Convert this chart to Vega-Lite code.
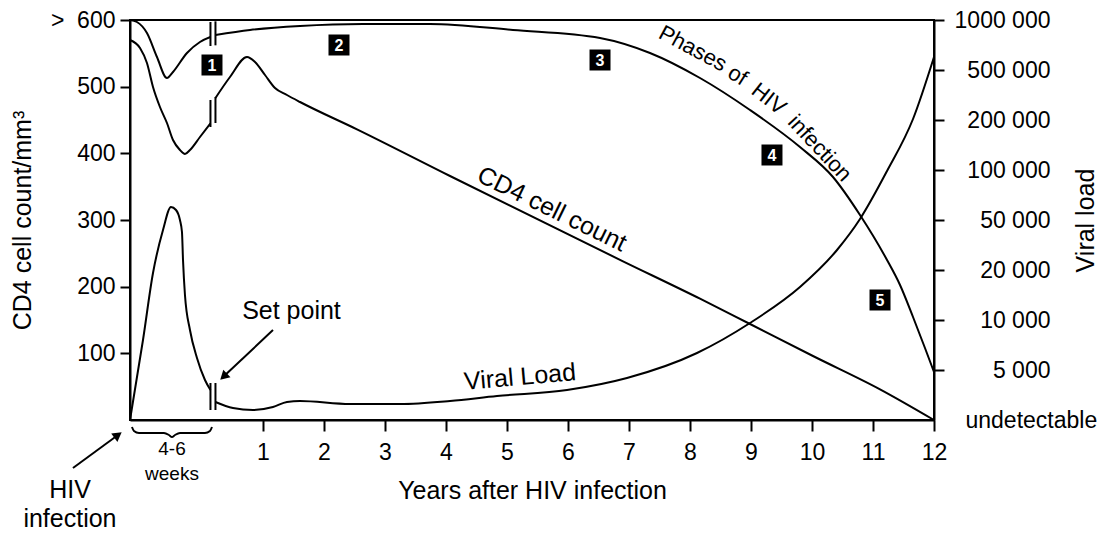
{
  "$schema": "https://vega.github.io/schema/vega-lite/v6.json",
  "width": 804,
  "height": 400,
  "autosize": {"type": "none"},
  "padding": {"left": 130, "top": 20, "right": 167, "bottom": 114},
  "background": "white",
  "config": {
    "font": "Liberation Sans",
    "view": {"stroke": "black", "strokeWidth": 2},
    "axis": {
      "domainColor": "black", "domainWidth": 2, "tickColor": "black", "tickWidth": 2,
      "labelColor": "black", "titleColor": "black", "grid": false,
      "labelFont": "Liberation Sans", "titleFont": "Liberation Sans",
      "labelFontSize": 23, "titleFontSize": 25, "titleFontWeight": "normal",
      "labelOverlap": false
    }
  },
  "datasets": {
    "curves": [
      {"key": "ph_a", "x": -1.18, "y": 600}, {"key": "ph_a", "x": -1.066, "y": 597}, {"key": "ph_a", "x": -0.902, "y": 580.5},
      {"key": "ph_a", "x": -0.738, "y": 544.5}, {"key": "ph_a", "x": -0.574, "y": 513}, {"key": "ph_a", "x": -0.475, "y": 522},
      {"key": "ph_a", "x": -0.246, "y": 550.5}, {"key": "ph_a", "x": -0.033, "y": 567}, {"key": "ph_a", "x": 0.139, "y": 574.5},
      {"key": "ph_b", "x": 0.221, "y": 577.5}, {"key": "ph_b", "x": 0.787, "y": 585}, {"key": "ph_b", "x": 1.607, "y": 591},
      {"key": "ph_b", "x": 2.639, "y": 594}, {"key": "ph_b", "x": 3.738, "y": 594}, {"key": "ph_b", "x": 5.098, "y": 585},
      {"key": "ph_b", "x": 6.525, "y": 573}, {"key": "ph_b", "x": 7.344, "y": 550.5}, {"key": "ph_b", "x": 8.164, "y": 513},
      {"key": "ph_b", "x": 8.984, "y": 465}, {"key": "ph_b", "x": 9.803, "y": 409.5}, {"key": "ph_b", "x": 10.344, "y": 364.5},
      {"key": "ph_b", "x": 10.787, "y": 307.5}, {"key": "ph_b", "x": 11.23, "y": 240}, {"key": "ph_b", "x": 11.443, "y": 202.5},
      {"key": "ph_b", "x": 11.656, "y": 154.5}, {"key": "ph_b", "x": 11.852, "y": 108}, {"key": "ph_b", "x": 12, "y": 72},
      {"key": "cd_a", "x": -1.18, "y": 570}, {"key": "cd_a", "x": -1.016, "y": 558}, {"key": "cd_a", "x": -0.902, "y": 535.5},
      {"key": "cd_a", "x": -0.803, "y": 499.5}, {"key": "cd_a", "x": -0.689, "y": 469.5}, {"key": "cd_a", "x": -0.574, "y": 445.5},
      {"key": "cd_a", "x": -0.475, "y": 420}, {"key": "cd_a", "x": -0.361, "y": 405}, {"key": "cd_a", "x": -0.279, "y": 399},
      {"key": "cd_a", "x": -0.197, "y": 405}, {"key": "cd_a", "x": -0.033, "y": 424.5}, {"key": "cd_a", "x": 0.139, "y": 445},
      {"key": "cd_b", "x": 0.221, "y": 483}, {"key": "cd_b", "x": 0.459, "y": 514.5}, {"key": "cd_b", "x": 0.738, "y": 544.5},
      {"key": "cd_b", "x": 0.869, "y": 537}, {"key": "cd_b", "x": 1.033, "y": 517.5}, {"key": "cd_b", "x": 1.197, "y": 498},
      {"key": "cd_b", "x": 1.393, "y": 487.5}, {"key": "cd_b", "x": 1.607, "y": 477}, {"key": "cd_b", "x": 2.541, "y": 436},
      {"key": "cd_b", "x": 4.066, "y": 366}, {"key": "cd_b", "x": 6.902, "y": 238}, {"key": "cd_b", "x": 8.164, "y": 182},
      {"key": "cd_b", "x": 8.984, "y": 144}, {"key": "cd_b", "x": 10.016, "y": 96}, {"key": "cd_b", "x": 11.115, "y": 46},
      {"key": "cd_b", "x": 12, "y": 0},
      {"key": "brace", "x": -1.148, "y": -10.5}, {"key": "brace", "x": -1.115, "y": -16.5}, {"key": "brace", "x": -1.033, "y": -19.5},
      {"key": "brace", "x": -0.623, "y": -19.5}, {"key": "brace", "x": -0.541, "y": -22.5}, {"key": "brace", "x": -0.492, "y": -25.5},
      {"key": "brace", "x": -0.443, "y": -22.5}, {"key": "brace", "x": -0.361, "y": -19.5}, {"key": "brace", "x": 0.049, "y": -19.5},
      {"key": "brace", "x": 0.131, "y": -16.5}, {"key": "brace", "x": 0.164, "y": -10.5},
      {"key": "arr1", "x": 1.164, "y": 135}, {"key": "arr1", "x": 0.354, "y": 65.1},
      {"key": "arr2", "x": -2.115, "y": -72}, {"key": "arr2", "x": -1.377, "y": -22.5}
    ],
    "viral": [
      {"seg": "a", "x": -1.18, "v": 0}, {"seg": "a", "x": -0.967, "v": 1.6}, {"seg": "a", "x": -0.803, "v": 2.94},
      {"seg": "a", "x": -0.639, "v": 3.8}, {"seg": "a", "x": -0.508, "v": 4.26}, {"seg": "a", "x": -0.426, "v": 4.2},
      {"seg": "a", "x": -0.361, "v": 4.0}, {"seg": "a", "x": -0.328, "v": 3.76}, {"seg": "a", "x": -0.311, "v": 3.2},
      {"seg": "a", "x": -0.279, "v": 2.5}, {"seg": "a", "x": -0.197, "v": 1.8}, {"seg": "a", "x": -0.082, "v": 1.24},
      {"seg": "a", "x": 0.049, "v": 0.8}, {"seg": "a", "x": 0.139, "v": 0.6},
      {"seg": "b", "x": 0.221, "v": 0.36}, {"seg": "b", "x": 0.508, "v": 0.24}, {"seg": "b", "x": 0.836, "v": 0.2},
      {"seg": "b", "x": 1.164, "v": 0.26}, {"seg": "b", "x": 1.393, "v": 0.36}, {"seg": "b", "x": 1.607, "v": 0.38},
      {"seg": "b", "x": 2.426, "v": 0.32}, {"seg": "b", "x": 3.246, "v": 0.32}, {"seg": "b", "x": 4.066, "v": 0.38},
      {"seg": "b", "x": 4.836, "v": 0.48}, {"seg": "b", "x": 5.984, "v": 0.6}, {"seg": "b", "x": 6.967, "v": 0.84},
      {"seg": "b", "x": 8.115, "v": 1.34}, {"seg": "b", "x": 8.984, "v": 1.94}, {"seg": "b", "x": 9.803, "v": 2.66},
      {"seg": "b", "x": 10.41, "v": 3.4}, {"seg": "b", "x": 10.787, "v": 4.02}, {"seg": "b", "x": 11.23, "v": 4.98},
      {"seg": "b", "x": 11.656, "v": 6.02}, {"seg": "b", "x": 12, "v": 7.26}
    ],
    "breaks": [
      {"x": 0.139, "y": 561, "y2": 597}, {"x": 0.221, "y": 562, "y2": 598},
      {"x": 0.139, "y": 439.5, "y2": 480}, {"x": 0.221, "y": 445.5, "y2": 484.5},
      {"x": 0.139, "y": 15, "y2": 55.5}, {"x": 0.221, "y": 15, "y2": 55.5}
    ],
    "heads": [
      {"k": "set", "x": 0.354, "y": 65.1},
      {"k": "hiv", "x": -1.377, "y": -22.5}
    ],
    "badges": [
      {"n": "1", "x": 0.164, "y": 532.5}, {"n": "2", "x": 2.246, "y": 562.5}, {"n": "3", "x": 6.525, "y": 540},
      {"n": "4", "x": 9.344, "y": 397.5}, {"n": "5", "x": 11.115, "y": 180}
    ],
    "labels": [
      {"g": "flat", "t": "Set point", "x": 1.467, "y": 163.5},
      {"g": "flat", "t": "HIV", "x": -2.164, "y": -105},
      {"g": "flat", "t": "infection", "x": -2.164, "y": -148.5},
      {"g": "small", "t": "4-6", "x": -0.492, "y": -43.5},
      {"g": "small", "t": "weeks", "x": -0.492, "y": -81},
      {"g": "vl", "t": "Viral Load", "x": 5.213, "y": 64.5},
      {"g": "cd4", "t": "CD4 cell count", "x": 5.738, "y": 316.5},
      {"g": "w1", "t": "Phases", "x": 8.047, "y": 557.3},
      {"g": "w2", "t": "of", "x": 8.782, "y": 516.9},
      {"g": "w3", "t": "HIV", "x": 9.292, "y": 481.7},
      {"g": "w4", "t": "infection", "x": 10.128, "y": 407.9}
    ]
  },
  "encoding": {
    "x": {
      "field": "x", "type": "quantitative",
      "scale": {"domain": [-1.18, 12], "nice": false, "zero": false},
      "axis": {
        "values": [1, 2, 3, 4, 5, 6, 7, 8, 9, 10, 11, 12],
        "tickSize": 11, "labelPadding": 10, "labelFlush": false,
        "title": "Years after HIV infection",
        "titleY": 78, "titleBaseline": "alphabetic"
      }
    }
  },
  "layer": [
    {
      "encoding": {
        "y": {
          "field": "y", "type": "quantitative",
          "scale": {"domain": [0, 600], "nice": false, "zero": false},
          "axis": {
            "orient": "left",
            "values": [100, 200, 300, 400, 500, 600],
            "tickSize": 10, "labelPadding": 5,
            "labelExpr": "datum.value == 600 ? '>\u00a0\u00a0600' : datum.label",
            "title": "CD4 cell count/mm³",
            "titleX": -108, "titleY": 200, "titleAngle": -90,
            "titleBaseline": "middle", "titleAlign": "center"
          }
        }
      },
      "layer": [
        {
          "data": {"name": "curves"},
          "mark": {"type": "line", "interpolate": "monotone", "color": "black", "strokeWidth": 2},
          "encoding": {"detail": {"field": "key"}}
        },
        {
          "data": {"name": "breaks"},
          "mark": {"type": "rule", "color": "black", "strokeWidth": 2},
          "encoding": {"y2": {"field": "y2"}}
        },
        {
          "data": {"name": "heads"},
          "transform": [{"filter": "datum.k == 'set'"}],
          "mark": {"type": "point", "shape": "triangle-up", "filled": true, "color": "black", "opacity": 1, "size": 110, "angle": 227},
          "encoding": {}
        },
        {
          "data": {"name": "heads"},
          "transform": [{"filter": "datum.k == 'hiv'"}],
          "mark": {"type": "point", "shape": "triangle-up", "filled": true, "color": "black", "opacity": 1, "size": 110, "angle": 54},
          "encoding": {}
        },
        {
          "data": {"name": "badges"},
          "mark": {"type": "point", "shape": "square", "filled": true, "color": "black", "opacity": 1, "size": 441},
          "encoding": {}
        },
        {
          "data": {"name": "badges"},
          "mark": {"type": "text", "color": "white", "fontWeight": "bold", "fontSize": 16, "font": "Liberation Sans", "baseline": "middle", "align": "center", "dy": 1},
          "encoding": {"text": {"field": "n"}}
        },
        {
          "data": {"name": "labels"},
          "transform": [{"filter": "datum.g == 'flat'"}],
          "mark": {"type": "text", "color": "black", "fontSize": 25, "font": "Liberation Sans", "baseline": "middle", "align": "center"},
          "encoding": {"text": {"field": "t"}}
        },
        {
          "data": {"name": "labels"},
          "transform": [{"filter": "datum.g == 'small'"}],
          "mark": {"type": "text", "color": "black", "fontSize": 19, "font": "Liberation Sans", "baseline": "middle", "align": "center"},
          "encoding": {"text": {"field": "t"}}
        },
        {
          "data": {"name": "labels"},
          "transform": [{"filter": "datum.g == 'vl'"}],
          "mark": {"type": "text", "color": "black", "fontSize": 25, "font": "Liberation Sans", "baseline": "middle", "align": "center", "angle": 355},
          "encoding": {"text": {"field": "t"}}
        },
        {
          "data": {"name": "labels"},
          "transform": [{"filter": "datum.g == 'cd4'"}],
          "mark": {"type": "text", "color": "black", "fontSize": 25, "font": "Liberation Sans", "baseline": "middle", "align": "center", "angle": 26},
          "encoding": {"text": {"field": "t"}}
        },
        {
          "data": {"name": "labels"},
          "transform": [{"filter": "datum.g == 'w1'"}],
          "mark": {"type": "text", "color": "black", "fontSize": 22, "font": "Liberation Sans", "baseline": "middle", "align": "center", "angle": 28},
          "encoding": {"text": {"field": "t"}}
        },
        {
          "data": {"name": "labels"},
          "transform": [{"filter": "datum.g == 'w2'"}],
          "mark": {"type": "text", "color": "black", "fontSize": 22, "font": "Liberation Sans", "baseline": "middle", "align": "center", "angle": 32},
          "encoding": {"text": {"field": "t"}}
        },
        {
          "data": {"name": "labels"},
          "transform": [{"filter": "datum.g == 'w3'"}],
          "mark": {"type": "text", "color": "black", "fontSize": 22, "font": "Liberation Sans", "baseline": "middle", "align": "center", "angle": 38},
          "encoding": {"text": {"field": "t"}}
        },
        {
          "data": {"name": "labels"},
          "transform": [{"filter": "datum.g == 'w4'"}],
          "mark": {"type": "text", "color": "black", "fontSize": 22, "font": "Liberation Sans", "baseline": "middle", "align": "center", "angle": 47},
          "encoding": {"text": {"field": "t"}}
        }
      ]
    },
    {
      "data": {"name": "viral"},
      "mark": {"type": "line", "interpolate": "monotone", "color": "black", "strokeWidth": 2},
      "encoding": {
        "y": {
          "field": "v", "type": "quantitative",
          "scale": {"domain": [0, 8], "nice": false, "zero": false},
          "axis": {
            "orient": "right",
            "values": [0, 1, 2, 3, 4, 5, 6, 7, 8],
            "tickSize": 10,
            "labelExpr": "['undetectable','5 000','10 000','20 000','50 000','100 000','200 000','500 000','1000 000'][datum.value]",
            "labelAlign": {"condition": {"test": "datum.value == 0", "value": "left"}, "value": "right"},
            "labelPadding": {"condition": {"test": "datum.value == 0", "value": 21}, "value": 106},
            "tickOpacity": {"condition": {"test": "datum.value == 0", "value": 0}, "value": 1},
            "title": "Viral load",
            "titleX": 151, "titleY": 200, "titleAngle": -90,
            "titleBaseline": "middle", "titleAlign": "center"
          }
        },
        "detail": {"field": "seg"}
      }
    }
  ],
  "resolve": {"scale": {"y": "independent"}}
}
